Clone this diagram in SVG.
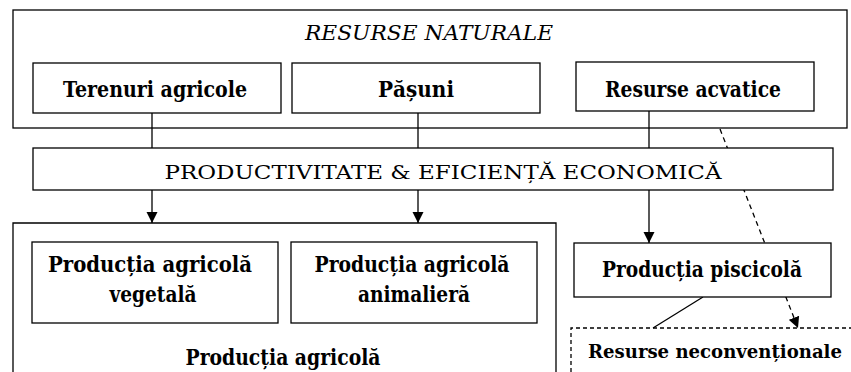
<svg xmlns="http://www.w3.org/2000/svg" width="851" height="372" viewBox="0 0 851 372">
<style>
.box{fill:#fff;stroke:#000;stroke-width:1.3}
.frame{fill:none;stroke:#000;stroke-width:1.3}
.dbox{fill:none;stroke:#000;stroke-width:1.3;stroke-dasharray:4 3}
.ln{fill:none;stroke:#000;stroke-width:1.3}
.dash{fill:none;stroke:#000;stroke-width:1.3;stroke-dasharray:5 4}
text{font-family:'DejaVu Serif','Liberation Serif',serif;fill:#000;text-anchor:middle}
.b{font-weight:bold;font-size:23px}
.bs{font-weight:bold;font-size:18.5px}
.r{font-size:19px}
.i{font-style:italic;font-size:21px}
</style>
<defs>
<marker id="ah" markerWidth="12" markerHeight="12" refX="11" refY="6" orient="auto" markerUnits="userSpaceOnUse">
<path d="M0,0.5 L11,6 L0,11.5 Z" fill="#000"/>
</marker>
</defs>
<rect width="851" height="372" fill="#fff"/>
<g id="connectors">
<line class="ln" x1="152" y1="113" x2="152" y2="148"/>
<line class="ln" x1="418" y1="113" x2="418" y2="148"/>
<line class="ln" x1="649" y1="111" x2="649" y2="148"/>
<line class="ln" x1="152" y1="190" x2="152" y2="223" marker-end="url(#ah)"/>
<line class="ln" x1="418" y1="190" x2="418" y2="223" marker-end="url(#ah)"/>
<line class="ln" x1="649" y1="190" x2="649" y2="243" marker-end="url(#ah)"/>
<line class="dash" x1="720" y1="129" x2="798" y2="328" marker-end="url(#ah)"/>
<line class="ln" x1="703" y1="297" x2="653" y2="328"/>
</g>
<g id="resurse-naturale">
<rect class="frame" x="13" y="10" width="834" height="118"/>
<text class="i" x="429" y="40" textLength="248" lengthAdjust="spacingAndGlyphs">RESURSE NATURALE</text>
</g>
<g id="terenuri-agricole">
<rect class="box" x="33" y="63" width="248" height="50"/>
<text class="b" x="155" y="97" textLength="184" lengthAdjust="spacingAndGlyphs">Terenuri agricole</text>
</g>
<g id="pasuni">
<rect class="box" x="292" y="63" width="248" height="50"/>
<text class="b" x="416" y="97" textLength="76" lengthAdjust="spacingAndGlyphs">Pășuni</text>
</g>
<g id="resurse-acvatice">
<rect class="box" x="576" y="62" width="238" height="49"/>
<text class="b" x="693" y="97" textLength="176" lengthAdjust="spacingAndGlyphs">Resurse acvatice</text>
</g>
<g id="productivitate">
<rect class="box" x="33" y="148" width="800" height="42"/>
<text class="r" x="443" y="179" textLength="557" lengthAdjust="spacingAndGlyphs">PRODUCTIVITATE &amp; EFICIENȚĂ ECONOMICĂ</text>
</g>
<g id="productia-agricola">
<path class="frame" d="M13,372 V223 H556 V372"/>
<text class="b" x="283" y="365" textLength="195" lengthAdjust="spacingAndGlyphs">Producția agricolă</text>
</g>
<g id="productia-vegetala">
<rect class="box" x="32" y="242" width="246" height="81"/>
<text class="b" x="150" y="272" textLength="204" lengthAdjust="spacingAndGlyphs">Producția agricolă</text>
<text class="b" x="153" y="302" textLength="87" lengthAdjust="spacingAndGlyphs">vegetală</text>
</g>
<g id="productia-animaliera">
<rect class="box" x="291" y="242" width="246" height="81"/>
<text class="b" x="412" y="272" textLength="195" lengthAdjust="spacingAndGlyphs">Producția agricolă</text>
<text class="b" x="414" y="302" textLength="112" lengthAdjust="spacingAndGlyphs">animalieră</text>
</g>
<g id="productia-piscicola">
<rect class="box" x="574" y="243" width="257" height="54"/>
<text class="b" x="702" y="277" textLength="200" lengthAdjust="spacingAndGlyphs">Producția piscicolă</text>
</g>
<g id="resurse-neconventionale">
<path class="dbox" d="M571,372 V328 H851"/>
<text class="bs" x="715" y="358" textLength="254" lengthAdjust="spacingAndGlyphs">Resurse neconvenționale</text>
</g>
</svg>
